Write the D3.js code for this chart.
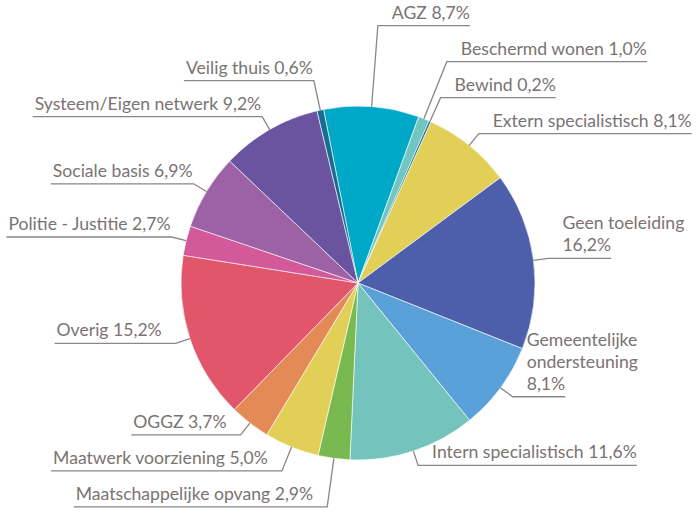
<!DOCTYPE html>
<html>
<head>
<meta charset="utf-8">
<script src="https://cdn.jsdelivr.net/npm/d3@7"></script>
<style>
  body { margin: 0; background: #ffffff; }
  #PieChart text { font-family: "Source Sans Pro", Lato, sans-serif; }
</style>
</head>
<body>
<div id="PieChart"></div>
<script>
// categories in the order the slices run, clockwise from the top
var categories = [
  "AGZ", "Beschermd wonen", "Bewind", "Extern specialistisch", "Geen toeleiding",
  "Gemeentelijke ondersteuning", "Intern specialistisch", "Maatschappelijke opvang",
  "Maatwerk voorziening", "OGGZ", "Overig", "Politie - Justitie", "Sociale basis",
  "Systeem/Eigen netwerk", "Veilig thuis"
];
var shares = [8.7, 1.0, 0.2, 8.1, 16.2, 8.1, 11.6, 2.9, 5.0, 3.7, 15.2, 2.7, 6.9, 9.2, 0.6];
var colors = [
  "#00a8c8", "#72c6c2", "#1a6e90", "#e2cf57", "#4d5faa",
  "#5aa1da", "#74c4bd", "#79b94f", "#e2cf57", "#e38a56",
  "#e1566a", "#d3599b", "#9d61a6", "#6a54a0", "#176d8f"
];

var nl = d3.formatLocale({ decimal: ",", thousands: ".", grouping: [3], currency: ["€", ""] });
var pct = nl.format(".1f");

var sliceData = categories.map(function (c, i) {
  return { key: c, value: shares[i], color: colors[i] };
});

document.addEventListener('DOMContentLoaded', function () {
  DrawPieChart();
});

function DrawPieChart() {
  var width = 698;
  var height = 531;
  var cx = 358, cy = 283;
  var radius = 177;
  var lineLen = 15;
  var lineH = 22;
  var fontSize = 17.6;
  var startAngle = -0.196;

  var svg = d3.select('#PieChart')
    .append('svg')
    .attr('width', width)
    .attr('height', height);

  var g = svg.append('g')
    .attr('transform', 'translate(' + cx + ',' + cy + ')');

  var pie = d3.pie()
    .value(function (d) { return d.value; })
    .sort(null)
    .startAngle(startAngle)
    .endAngle(startAngle + 2 * Math.PI);

  var arc = d3.arc()
    .innerRadius(0)
    .outerRadius(radius);

  var dataReady = pie(sliceData);

  g.selectAll('path.slice')
    .data(dataReady)
    .enter()
    .append('path')
    .attr('class', 'slice')
    .attr('d', arc)
    .attr('stroke', 'white')
    .attr('stroke-width', 0.6)
    .attr('fill', function (d) { return d.data.color; });

  // measuring helper
  var meas = svg.append('text').attr('font-size', fontSize).attr('visibility', 'hidden');
  function textW(s) { meas.text(s); return meas.node().getComputedTextLength(); }

  // gap between elbow and text: right side and lower left sit a bit off the line end
  function textGap(side, y) {
    if (side === 'right') return 14;
    return y < 0 ? 1 : 14;
  }

  // label layout
  var labels = dataReady.map(function (d) {
    var a = (d.startAngle + d.endAngle) / 2;
    var side = Math.sin(a) >= 0 ? 'right' : 'left';
    var ex = Math.sin(a) * (radius + lineLen);
    var ey = -Math.cos(a) * (radius + lineLen);
    var full = d.data.key + ' ' + pct(d.data.value) + '%';
    var lines = [full];
    var gp = textGap(side, ey);
    var textX = side === 'right' ? cx + ex + gp : cx + ex - gp;
    var room = side === 'right' ? (width - 4 - textX) : (textX - 4);
    if (textW(full) > room) {
      lines = [];
      var words = d.data.key.split(' ');
      var cur = words[0];
      for (var i = 1; i < words.length; i++) {
        if (textW(cur + ' ' + words[i]) > room) { lines.push(cur); cur = words[i]; }
        else cur = cur + ' ' + words[i];
      }
      lines.push(cur);
      lines.push(pct(d.data.value) + '%');
    }
    return {
      d: d, a: a, side: side, lines: lines,
      sx: Math.sin(a) * radius, sy: -Math.cos(a) * radius,
      ex: ex, ey: ey, pushed: false
    };
  });

  function boxH(l) { return l.lines.length * lineH + 14; }

  ['left', 'right'].forEach(function (side) {
    var items = labels.filter(function (l) { return l.side === side; });
    var upper = items.filter(function (l) { return l.ey < 0; })
      .sort(function (a, b) { return b.ey - a.ey; });
    for (var i = 1; i < upper.length; i++) {
      var lim = upper[i - 1].ey - boxH(upper[i - 1]);
      if (upper[i].ey > lim) { upper[i].ey = lim; upper[i].pushed = true; }
    }
    var lower = items.filter(function (l) { return l.ey >= 0; })
      .sort(function (a, b) { return a.ey - b.ey; });
    for (var j = 1; j < lower.length; j++) {
      var lim2 = lower[j - 1].ey + boxH(lower[j]);
      if (lower[j].ey < lim2) { lower[j].ey = lim2; lower[j].pushed = true; }
    }
  });

  labels.forEach(function (l) {
    if (l.pushed) {
      var rho = -l.ey / Math.cos(l.a);
      l.ex = Math.sin(l.a) * rho;
    }
  });

  var labelG = svg.append('g');

  labels.forEach(function (l) {
    var ex = cx + l.ex, ey = cy + l.ey;
    var lastW = textW(l.lines[l.lines.length - 1]);
    var maxW = d3.max(l.lines, textW);
    var gp = textGap(l.side, l.ey);
    var tx, uEnd, anchor;
    if (l.side === 'right') {
      tx = ex + gp; anchor = 'start';
      uEnd = tx + (l.lines.length > 1 ? lastW : maxW);
    } else {
      tx = ex - gp; anchor = 'end';
      uEnd = tx - (l.lines.length > 1 ? lastW : maxW) - 2;
    }

    labelG.append('path')
      .attr('d', d3.line()([[cx + l.sx, cy + l.sy], [ex, ey], [uEnd, ey]]))
      .attr('fill', 'none')
      .attr('stroke', '#8b8584')
      .attr('stroke-width', 1.3);

    var t = labelG.append('text')
      .attr('font-size', fontSize)
      .attr('fill', '#7a7373')
      .attr('text-anchor', anchor);
    var n = l.lines.length;
    l.lines.forEach(function (s, k) {
      t.append('tspan')
        .attr('x', tx)
        .attr('y', ey - 7 - (n - 1 - k) * lineH)
        .text(s);
    });
  });

  meas.remove();
}
</script>
</body>
</html>
